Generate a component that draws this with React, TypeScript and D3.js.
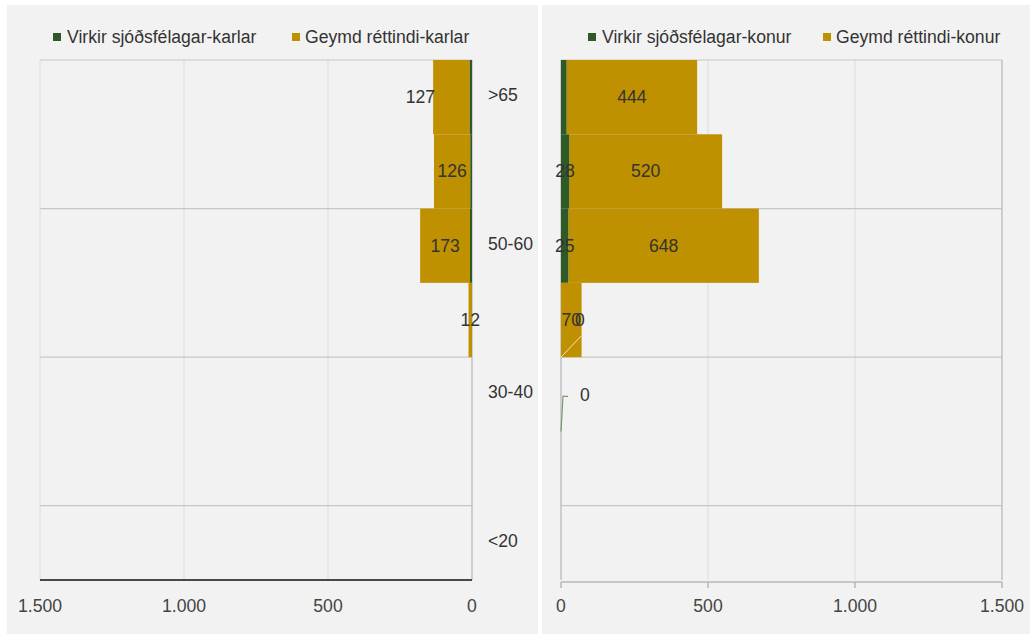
import React from "react";
import * as d3 from "d3";

const categories = [">65", "60-65", "50-60", "40-50", "30-40", "20-30", "<20"];
const virkirKarlar = [8, 6, 7, 0, 0, 0, 0];
const geymdKarlar = [127, 126, 173, 12, 0, 0, 0];
const virkirKonur = [19, 28, 25, 0, 0, 0, 0];
const geymdKonur = [444, 520, 648, 70, 0, 0, 0];
const xTicks = [0, 500, 1000, 1500];
const legendKarlar = ["Virkir sjóðsfélagar-karlar", "Geymd réttindi-karlar"];
const legendKonur = ["Virkir sjóðsfélagar-konur", "Geymd réttindi-konur"];

const GREEN = "#2f5a27";
const GOLD = "#bf9000";
const BG = "#f2f2f2";
const TXT = "#333333";
const FONT = "'Liberation Sans', Arial, sans-serif";
const FS = 17.6;

const locale = d3.formatLocale({ decimal: ",", thousands: ".", grouping: [3], currency: ["", ""] });
const fmt = locale.format(",");

export default function App() {
  const y = d3.scaleBand<string>().domain(categories).range([60, 580]).padding(0);
  const xL = d3.scaleLinear().domain([0, 1500]).range([472, 40]);
  const xR = d3.scaleLinear().domain([0, 1500]).range([561, 1002]);
  const bw = y.bandwidth();
  const gridRows = categories.map((c, i) => i).filter((i) => i % 2 === 0);

  return (
    <svg width={1030} height={634} style={{ position: "absolute", left: 0, top: 0 }}>
      <rect x={0} y={0} width={1030} height={634} fill="#ffffff" />
      <rect x={7} y={5} width={531} height={629} fill={BG} />
      <rect x={542} y={5} width={488} height={629} fill={BG} />

      {/* legends */}
      <g fontFamily={FONT} fontSize={FS} fill={TXT}>
        <rect x={53} y={33} width={8} height={8} fill={GREEN} />
        <text x={67} y={43}>{legendKarlar[0]}</text>
        <rect x={292} y={33} width={8} height={8} fill={GOLD} />
        <text x={305} y={43}>{legendKarlar[1]}</text>
        <rect x={588} y={33} width={8} height={8} fill={GREEN} />
        <text x={602} y={43}>{legendKonur[0]}</text>
        <rect x={823} y={33} width={8} height={8} fill={GOLD} />
        <text x={836} y={43}>{legendKonur[1]}</text>
      </g>

      {/* LEFT PANEL grid */}
      {xTicks.filter((t) => t > 0 && t < 1500).map((t) => (
        <line key={"lg" + t} x1={xL(t)} x2={xL(t)} y1={60} y2={580} stroke="#dcdcdc" strokeWidth={1} />
      ))}
      {gridRows.map((i) => (
        <line key={"lh" + i} x1={40} x2={472} y1={y(categories[i])!} y2={y(categories[i])!} stroke="#c4c8c4" strokeWidth={1.2} />
      ))}
      <line x1={40} x2={40} y1={60} y2={580} stroke="#dcdcdc" />
      <line x1={472} x2={472} y1={60} y2={580} stroke="#c0c0c0" strokeWidth={1.5} />

      {/* RIGHT PANEL grid */}
      {xTicks.filter((t) => t > 0 && t < 1500).map((t) => (
        <line key={"rg" + t} x1={xR(t)} x2={xR(t)} y1={60} y2={580} stroke="#dcdcdc" strokeWidth={1} />
      ))}
      {gridRows.map((i) => (
        <line key={"rh" + i} x1={561} x2={1002} y1={y(categories[i])!} y2={y(categories[i])!} stroke="#c4c8c4" strokeWidth={1.2} />
      ))}
      <line x1={561} x2={561} y1={60} y2={580} stroke="#c0c0c0" strokeWidth={1.5} />
      <line x1={1002} x2={1002} y1={60} y2={580} stroke="#c0c0c0" strokeWidth={1.5} />

      {/* LEFT bars */}
      {categories.map((c, i) => {
        const v = virkirKarlar[i];
        const g = geymdKarlar[i];
        return (
          <g key={"lb" + c}>
            {g > 0 && <rect x={xL(v + g)} y={y(c)!} width={xL(v) - xL(v + g)} height={bw} fill={GOLD} />}
            {v > 0 && <rect x={xL(v)} y={y(c)!} width={xL(0) - xL(v)} height={bw} fill={GREEN} />}
          </g>
        );
      })}

      {/* RIGHT bars */}
      {categories.map((c, i) => {
        const v = virkirKonur[i];
        const g = geymdKonur[i];
        return (
          <g key={"rb" + c}>
            {g > 0 && <rect x={xR(v)} y={y(c)!} width={xR(v + g) - xR(v)} height={bw} fill={GOLD} />}
            {v > 0 && <rect x={xR(0)} y={y(c)!} width={xR(v) - xR(0)} height={bw} fill={GREEN} />}
          </g>
        );
      })}

      {/* axes */}
      <line x1={40} x2={472} y1={580} y2={580} stroke="#111" strokeWidth={1.6} />
      {xTicks.map((t) => (
        <text key={"lt" + t} x={xL(t)} y={612} textAnchor="middle" fontFamily={FONT} fontSize={FS} fill="#444">
          {fmt(t)}
        </text>
      ))}
      <line x1={561} x2={1002} y1={582} y2={582} stroke="#b4bab4" strokeWidth={1.5} />
      {xTicks.map((t) => (
        <g key={"rt" + t}>
          <line x1={xR(t)} x2={xR(t)} y1={582} y2={588} stroke="#b4bab4" strokeWidth={1.5} />
          <text x={xR(t)} y={612} textAnchor="middle" fontFamily={FONT} fontSize={FS} fill="#444">
            {fmt(t)}
          </text>
        </g>
      ))}

      {/* category labels */}
      {categories.map((c, i) =>
        i % 2 === 0 ? (
          <text key={"cat" + c} x={488} y={y(c)! + bw / 2 + 4} fontFamily={FONT} fontSize={FS} fill={TXT}>
            {c}
          </text>
        ) : null
      )}

      {/* value labels: left */}
      {categories.map((c, i) => {
        const v = virkirKarlar[i];
        const g = geymdKarlar[i];
        if (g <= 0) return null;
        const shift = i === 0 ? -31 : 0;
        return (
          <text key={"lvl" + c} x={(xL(v) + xL(v + g)) / 2 + shift} y={y(c)! + bw / 2 + 6} textAnchor="middle" fontFamily={FONT} fontSize={FS} fill={TXT}>
            {g}
          </text>
        );
      })}

      {/* value labels: right */}
      {categories.map((c, i) => {
        const v = virkirKonur[i];
        const g = geymdKonur[i];
        const cy = y(c)! + bw / 2 + 6;
        return (
          <g key={"rvl" + c} fontFamily={FONT} fontSize={FS} fill={TXT} textAnchor="middle">
            {g > 0 && <text x={(xR(v) + xR(v + g)) / 2} y={cy}>{g}</text>}
            {v >= 20 && <text x={(xR(0) + xR(v)) / 2} y={cy}>{v}</text>}
          </g>
        );
      })}

      {/* zero labels with leader lines (right panel) */}
      {(() => {
        const c1 = categories[3];
        const b1 = y(c1)! + bw;
        const c2 = categories[4];
        const m2 = y(c2)! + bw / 2;
        return (
          <g fontFamily={FONT} fontSize={FS} fill={TXT} textAnchor="middle">
            <line x1={xR(0)} y1={b1} x2={xR(0) + 20} y2={b1 - 21} stroke="#f4e6c0" strokeWidth={1} />
            <text x={xR(0) + 19} y={y(c1)! + bw / 2 + 6}>{virkirKonur[3]}</text>
            <polyline points={`${xR(0)},${y(c2)! + bw} ${xR(0) + 2},${m2 + 2} ${xR(0) + 7},${m2 + 2}`} fill="none" stroke="#7a9a70" strokeWidth={1.2} />
            <text x={xR(0) + 24} y={m2 + 7}>{virkirKonur[4]}</text>
          </g>
        );
      })()}
    </svg>
  );
}
